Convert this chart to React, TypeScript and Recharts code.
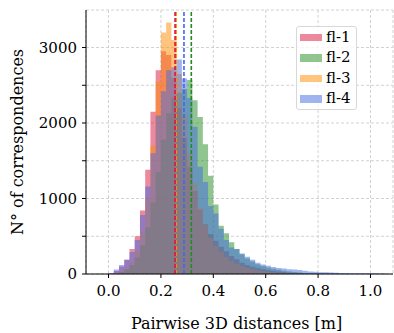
import React from "react";
import { ComposedChart, Area, XAxis, YAxis, CartesianGrid, ReferenceLine, Legend } from "recharts";

// left edges of the histogram bins (width 0.02), plus the closing edge
const binEdges: number[] = [
  0.0, 0.02, 0.04, 0.06, 0.08, 0.1, 0.12, 0.14, 0.16, 0.18,
  0.2, 0.22, 0.24, 0.26, 0.28, 0.3, 0.32, 0.34, 0.36, 0.38,
  0.4, 0.42, 0.44, 0.46, 0.48, 0.5, 0.52, 0.54, 0.56, 0.58,
  0.6, 0.62, 0.64, 0.66, 0.68, 0.7, 0.72, 0.74, 0.76, 0.78,
  0.8, 0.82, 0.84, 0.86, 0.88, 0.9, 0.92, 0.94, 0.96, 0.98,
  1.0, 1.02, 1.04, 1.06,
];

const fl1: number[] = [
  5, 40, 100, 190, 330, 500, 840, 1380, 2150, 2700,
  2950, 2900, 2600, 2200, 1800, 1420, 1100, 850, 660, 530,
  440, 360, 300, 240, 195, 150, 120, 95, 80, 64,
  50, 40, 32, 25, 18, 14, 10, 8, 6, 5,
  4, 3, 2, 2, 1, 1, 1, 0, 0, 0,
  0, 0, 0,
];

const fl2: number[] = [
  0, 8, 25, 60, 120, 220, 380, 620, 950, 1350,
  1780, 2130, 2330, 2400, 2450, 2570, 2300, 2080, 1720, 1300,
  920, 640, 540, 420, 330, 260, 205, 165, 130, 105,
  85, 68, 55, 42, 33, 25, 19, 14, 10, 8,
  6, 4, 3, 2, 1, 0, 0, 0, 0, 0,
  0, 0, 0,
];

const fl3: number[] = [
  0, 10, 35, 80, 160, 300, 560, 1000, 1700, 2550,
  3200, 3330, 3100, 2650, 2100, 1600, 1200, 880, 650, 480,
  370, 290, 225, 175, 135, 105, 82, 64, 50, 39,
  30, 23, 18, 13, 10, 7, 5, 4, 3, 2,
  2, 1, 1, 0, 0, 0, 0, 0, 0, 0,
  0, 0, 0,
];

const fl4: number[] = [
  10, 60, 120, 190, 290, 450, 780, 1160, 1600, 2100,
  2420, 2700, 2740, 2840, 2590, 2330, 1950, 1420, 1220, 900,
  800, 600, 450, 350, 330, 270, 230, 190, 150, 125,
  108, 92, 80, 72, 62, 58, 52, 44, 34, 30,
  24, 22, 19, 15, 13, 12, 11, 10, 10, 9,
  9, 8, 7,
];

const seriesNames = ["fl-1", "fl-2", "fl-3", "fl-4"];
const seriesColors = ["#dc143c", "#228b22", "#ff8c00", "#4169e1"];
const seriesMeans = [0.254, 0.316, 0.258, 0.288];
const xTicks = [0, 0.2, 0.4, 0.6, 0.8, 1.0];
const yTicks = [0, 500, 1000, 1500, 2000, 2500, 3000];

const counts = [fl1, fl2, fl3, fl4];
const rows = binEdges.map((x, i) => ({
  x,
  s0: fl1[i] ?? 0,
  s1: fl2[i] ?? 0,
  s2: fl3[i] ?? 0,
  s3: fl4[i] ?? 0,
}));

const font = "'DejaVu Serif', serif";
const tickStyle = { fontFamily: font, fontSize: 15 };
const titleStyle = { fontFamily: font, fontSize: 16 };

const LegendBox = () => (
  <div
    style={{
      border: "1px solid #d8d8d8",
      borderRadius: 3,
      background: "rgba(255,255,255,0.8)",
      width: 59,
      fontFamily: font,
      fontSize: 15,
      color: "#000",
    }}
  >
    {seriesNames.map((n, i) => (
      <div key={n} style={{ display: "flex", alignItems: "center", height: 20.5 }}>
        <span
          style={{
            display: "inline-block",
            width: 22,
            height: 7.5,
            marginLeft: 3,
            marginRight: 4,
            background: seriesColors[i],
            opacity: 0.5,
          }}
        />
        <span style={{ lineHeight: "15px" }}>{n}</span>
      </div>
    ))}
  </div>
);

export default function App() {
  return (
    <div
      style={{
        position: "absolute",
        left: 0,
        top: 0,
        width: 394,
        height: 333,
        background: "#fff",
        fontFamily: font,
      }}
    >
      <ComposedChart
        width={394}
        height={333}
        data={rows}
        margin={{ top: 10, right: 1, bottom: 0, left: 0 }}
        style={{ fontFamily: font }}
      >
        <CartesianGrid stroke="#d2d2d2" strokeDasharray="3 2" />
        <XAxis
          dataKey="x"
          type="number"
          domain={[-0.086, 1.086]}
          ticks={xTicks}
          interval={0}
          allowDataOverflow
          tickFormatter={(v: number) => v.toFixed(1)}
          height={59}
          tickSize={4}
          tickMargin={7}
          stroke="#000"
          tick={{ fill: "#000", fontSize: 15, style: tickStyle }}
          label={{
            value: "Pairwise 3D distances [m]",
            position: "insideBottom",
            offset: 4,
            dx: -3,
            fill: "#000",
            style: titleStyle,
          }}
        />
        <YAxis
          type="number"
          domain={[0, 3497]}
          ticks={yTicks}
          interval={0}
          allowDataOverflow
          width={86}
          tickSize={4}
          tickMargin={5}
          stroke="#000"
          tickFormatter={(v: number) => (v % 1000 === 0 ? String(v) : "")}
          tick={{ fill: "#000", fontSize: 15, style: tickStyle }}
          label={{
            value: "N° of correspondences",
            angle: -90,
            position: "insideLeft",
            offset: 17,
            fill: "#000",
            style: { ...titleStyle, textAnchor: "middle" },
          }}
        />
        {counts.map((_, i) => (
          <Area
            key={seriesNames[i]}
            name={seriesNames[i]}
            dataKey={"s" + i}
            type="stepAfter"
            fill={seriesColors[i]}
            fillOpacity={0.5}
            stroke="none"
            activeDot={false}
            isAnimationActive={false}
          />
        ))}
        {[2, 0, 3, 1].map((i) => (
          <ReferenceLine
            key={"m" + i}
            x={seriesMeans[i]}
            stroke={seriesColors[i]}
            strokeWidth={1.6}
            strokeDasharray="4 2"
          />
        ))}
        <Legend
          layout="vertical"
          align="center"
          verticalAlign="middle"
          wrapperStyle={{ left: 296, top: 26, width: "auto", height: "auto" }}
          content={() => <LegendBox />}
        />
      </ComposedChart>
    </div>
  );
}
